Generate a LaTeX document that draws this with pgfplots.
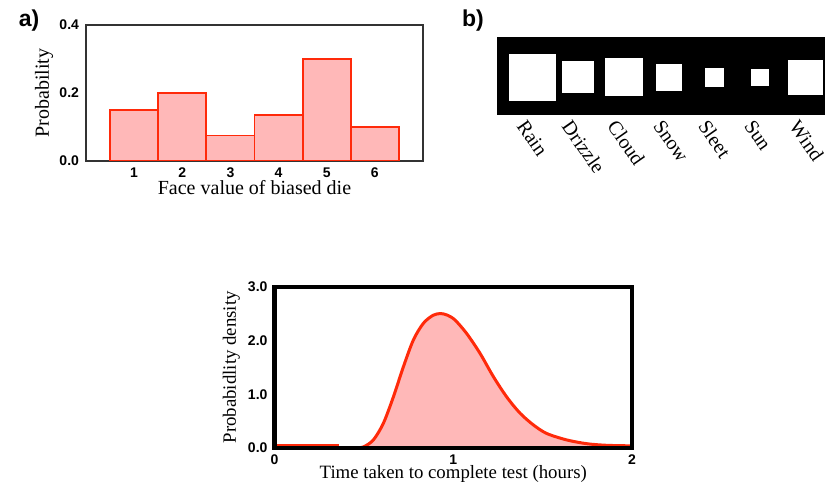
\documentclass[border=0pt]{standalone}
\usepackage{fontspec}
\setmainfont{Liberation Serif}
\setsansfont{Liberation Sans}
\usepackage{pgfplots}
\usepackage{pgfplotstable}
\pgfplotsset{compat=1.18}

\definecolor{edgered}{HTML}{FF2A0A}
\definecolor{fillpink}{HTML}{FFB8B8}

% a) biased die
\pgfplotstableread{
face prob
1 0.150
2 0.200
3 0.075
4 0.135
5 0.300
6 0.100
}\dietable

% b) weather, square side in px
\pgfplotstableread{
idx y side
0 36.5 45.5
1 36.5 31.0
2 36.5 37.0
3 36.5 25.5
4 36.5 18.0
5 36.5 16.7
6 36.5 33.5
}\weathertable

\newcommand{\labfont}{\fontsize{10}{12}\selectfont}
\newcommand{\tickfont}{\sffamily\bfseries\fontsize{7}{8}\selectfont}

\begin{document}
\begin{tikzpicture}
\path[use as bounding box] (0,0) rectangle (412.5pt,244pt);

\node[font=\sffamily\bfseries\fontsize{11.5}{13}\selectfont] at (14.5pt,233.5pt) {a)};
\node[font=\sffamily\bfseries\fontsize{11.5}{13}\selectfont] at (236.5pt,233.5pt) {b)};

\pgfplotsset{every axis/.append style={
  scale only axis, anchor=south west,
  major tick length=0pt,
  tick label style={font=\tickfont},
  /pgf/number format/assume math mode=true,
  label style={font=\labfont},
}}

% ---- a)
\begin{axis}[
  at={(43pt,163.5pt)}, width=168.5pt, height=68pt,
  xmin=0, xmax=7, ymin=0, ymax=0.4,
  xtick={1,2,3,4,5,6}, ytick={0,0.2,0.4},
  yticklabel style={/pgf/number format/.cd, fixed, fixed zerofill, precision=1},
  axis line style={black!80, line width=0.7pt},
  xlabel={Face value of biased die},
  ylabel={Probability},
  xlabel style={at={(axis description cs:0.5,0)}, anchor=center, yshift=-13.5pt},
  ylabel style={at={(axis description cs:-0.1246,0.5)}, anchor=center},
]
  \addplot[ybar, bar width=1, bar shift=0pt, draw=edgered, fill=fillpink, line width=0.9pt]
    table[x=face, y=prob] {\dietable};
\end{axis}

% ---- b)
\begin{axis}[
  at={(248.5pt,187pt)}, width=164pt, height=38.5pt,
  xmin=-0.785, xmax=6.424, ymin=0, ymax=77,
  xtick={0,1,2,3,4,5,6},
  xticklabels={Rain,Drizzle,Cloud,Snow,Sleet,Sun,Wind},
  xticklabel style={font=\labfont\rmfamily, xshift=-2pt, yshift=2.5pt, rotate=-55, anchor=north west},
  ytick=\empty,
  axis background/.style={fill=black},
  axis line style={black},
]
  \addplot[scatter, only marks, mark=square*,
    scatter/use mapped color={draw=white, fill=white},
    point meta=\thisrow{side},
    visualization depends on={\thisrow{side} \as \side},
    scatter/@pre marker code/.append style={/tikz/mark size=0.25pt*\side},
    line width=0pt]
    table[x=idx, y=y] {\weathertable};
\end{axis}

% ---- c)
\begin{axis}[
  at={(137.25pt,20pt)}, width=178.75pt, height=80.65pt,
  xmin=0, xmax=2, ymin=0, ymax=3,
  xtick={0,1,2}, ytick={0,1,2,3},
  yticklabel style={/pgf/number format/.cd, fixed, fixed zerofill, precision=1},
  axis line style={black, line width=2.2pt},
  axis on top,
  label style={font=\fontsize{9.4}{11}\selectfont},
  xlabel={Time taken to complete test (hours)},
  ylabel={Probabidlity density},
  xlabel style={at={(axis description cs:0.5,0)}, anchor=center, yshift=-13pt},
  ylabel style={at={(axis description cs:-0.1203,0.5)}, anchor=center},
]
  \addplot[smooth, draw=edgered, fill=fillpink, line width=1.5pt] coordinates {
    (0.36,0.00) (0.45,0.00) (0.497,0.02) (0.553,0.15) (0.609,0.46) (0.665,0.95)
    (0.721,1.51) (0.777,2.01) (0.833,2.32) (0.888,2.47) (0.930,2.50)
    (0.968,2.47) (1.010,2.38) (1.075,2.13) (1.150,1.76) (1.224,1.33) (1.299,0.95)
    (1.373,0.65) (1.448,0.43) (1.523,0.27) (1.635,0.15) (1.747,0.08)
    (1.859,0.05) (2.000,0.04)
  } \closedcycle;
  \addplot[draw=edgered, line width=1.5pt] coordinates {(0,0.05) (0.36,0.05)};
\end{axis}
\end{tikzpicture}
\end{document}
